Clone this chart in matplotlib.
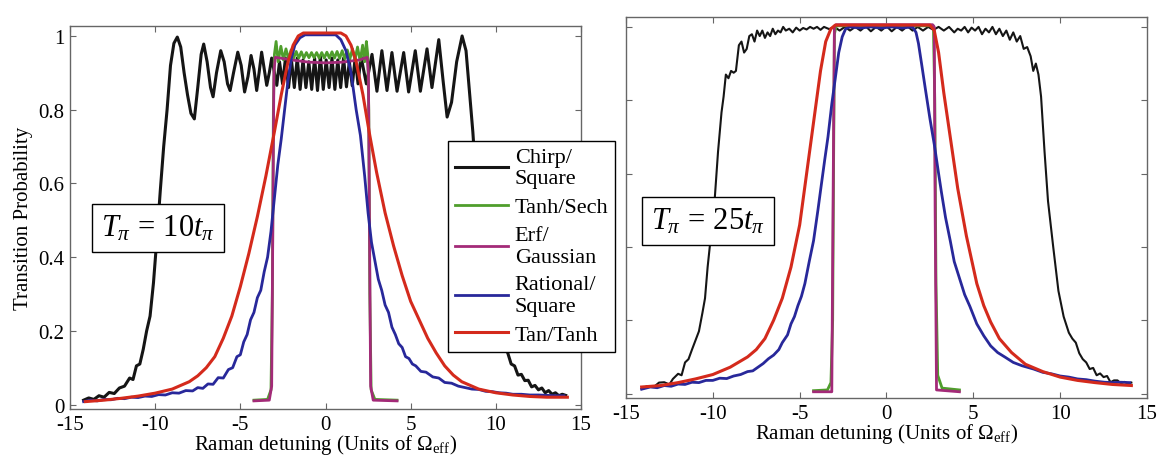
import numpy as np
import matplotlib
matplotlib.use('Agg')
import matplotlib.pyplot as plt

plt.rcParams['font.family'] = ['Liberation Serif', 'DejaVu Serif']
plt.rcParams['mathtext.fontset'] = 'custom'
plt.rcParams['mathtext.rm'] = 'Liberation Serif'
plt.rcParams['mathtext.it'] = 'Liberation Serif:italic'
plt.rcParams['axes.unicode_minus'] = False

labels = ['Chirp/\nSquare', 'Tanh/Sech', 'Erf/\nGaussian', 'Rational/\nSquare', 'Tan/Tanh']
colors = ['#151515', '#4f9e2c', '#a32a78', '#28289a', '#d42a1c']
x_ticks = [-15, -10, -5, 0, 5, 10, 15]
y_ticks = [0, 0.2, 0.4, 0.6, 0.8, 1]
box_texts = [r'$T_{\pi}\,=\,10t_{\pi}$', r'$T_{\pi}\,=\,25t_{\pi}$']

# left panel, T_pi = 10 t_pi  (detuning, probability)
chirp_10 = [(-14.2, 0.012), (-13.9, 0.018), (-13.6, 0.014), (-13.3, 0.024), (-13.0, 0.02), (-12.7, 0.033),
            (-12.4, 0.03), (-12.1, 0.045), (-11.8, 0.05), (-11.5, 0.072), (-11.3, 0.068), (-11.1, 0.105),
            (-10.9, 0.11), (-10.7, 0.15), (-10.5, 0.2), (-10.3, 0.24), (-10.1, 0.33), (-9.9, 0.45),
            (-9.7, 0.58), (-9.5, 0.7), (-9.3, 0.8), (-9.1, 0.92), (-8.9, 0.98), (-8.7, 0.997), (-8.5, 0.97),
            (-8.3, 0.9), (-8.1, 0.84), (-7.9, 0.79), (-7.7, 0.775), (-7.5, 0.86), (-7.3, 0.95), (-7.15, 0.978),
            (-6.95, 0.93), (-6.75, 0.86), (-6.6, 0.835), (-6.4, 0.9), (-6.15, 0.96), (-5.95, 0.93),
            (-5.75, 0.87), (-5.6, 0.852), (-5.4, 0.9), (-5.15, 0.956), (-4.95, 0.92), (-4.75, 0.848),
            (-4.55, 0.89), (-4.37, 0.947), (-4.2, 0.91), (-4.04, 0.852), (-3.9, 0.9), (-3.75, 0.956),
            (-3.6, 0.91), (-3.45, 0.866), (-3.3, 0.9), (-3.16, 0.94), (-3.0, 0.9), (-2.86, 0.866),
            (-2.7, 0.93), (-2.52, 0.87), (-2.35, 0.94), (-2.17, 0.86), (-2.0, 0.935), (-1.83, 0.86),
            (-1.66, 0.94), (-1.49, 0.855), (-1.32, 0.935), (-1.15, 0.86), (-0.98, 0.93), (-0.81, 0.855),
            (-0.64, 0.94), (-0.47, 0.852), (-0.3, 0.945), (-0.13, 0.855), (0.04, 0.935), (0.21, 0.86),
            (0.38, 0.94), (0.55, 0.855), (0.72, 0.935), (0.89, 0.86), (1.06, 0.94), (1.23, 0.862),
            (1.4, 0.93), (1.57, 0.865), (1.74, 0.94), (1.91, 0.87), (2.08, 0.945), (2.4, 0.87),
            (2.73, 0.95), (3.02, 0.85), (3.31, 0.96), (3.61, 0.852), (3.9, 0.955), (4.2, 0.85),
            (4.59, 0.955), (4.88, 0.848), (5.27, 0.96), (5.57, 0.85), (5.96, 0.965), (6.25, 0.86),
            (6.65, 0.99), (6.9, 0.88), (7.14, 0.78), (7.4, 0.82), (7.7, 0.93), (8.02, 1.0), (8.25, 0.96),
            (8.45, 0.85), (8.65, 0.74), (8.85, 0.6), (9.05, 0.45), (9.25, 0.34), (9.45, 0.27), (9.7, 0.22),
            (9.95, 0.19), (10.2, 0.17), (10.45, 0.16), (10.7, 0.14), (10.9, 0.11), (11.1, 0.105),
            (11.3, 0.08), (11.5, 0.082), (11.7, 0.065), (11.9, 0.066), (12.1, 0.048), (12.3, 0.052),
            (12.5, 0.04), (12.7, 0.045), (12.9, 0.032), (13.1, 0.038), (13.3, 0.028), (13.5, 0.032),
            (13.7, 0.024), (13.9, 0.028), (14.1, 0.025)]
sech_10 = [(-4.2, 0.012), (-3.4, 0.014), (-3.2, 0.04), (-3.12, 0.3), (-3.06, 0.8), (-3.0, 0.95),
           (-2.9, 0.985), (-2.78, 0.93), (-2.62, 0.972), (-2.47, 0.935), (-2.32, 0.965), (-2.17, 0.937),
           (-2.02, 0.962), (-1.87, 0.94), (-1.72, 0.958), (-1.57, 0.94), (-1.42, 0.957), (-1.27, 0.94),
           (-1.12, 0.955), (-0.97, 0.941), (-0.82, 0.955), (-0.67, 0.941), (-0.52, 0.955), (-0.37, 0.94),
           (-0.22, 0.955), (-0.07, 0.94), (0.08, 0.956), (0.23, 0.94), (0.38, 0.957), (0.53, 0.94),
           (0.68, 0.958), (0.83, 0.939), (0.98, 0.96), (1.13, 0.938), (1.28, 0.962), (1.43, 0.937),
           (1.58, 0.965), (1.73, 0.935), (1.88, 0.97), (2.03, 0.932), (2.18, 0.975), (2.3, 0.93),
           (2.4, 0.985), (2.48, 0.95), (2.54, 0.8), (2.6, 0.3), (2.68, 0.04), (2.9, 0.014), (4.2, 0.012)]
gauss_10 = [(-4.2, 0.01), (-3.3, 0.012), (-3.16, 0.05), (-3.09, 0.5), (-3.03, 0.9), (-2.95, 0.942),
            (-2.0, 0.935), (-1.0, 0.929), (0.0, 0.927), (1.0, 0.929), (2.0, 0.935), (2.45, 0.942),
            (2.52, 0.9), (2.58, 0.5), (2.65, 0.05), (2.8, 0.012), (4.2, 0.01)]
rational_10 = [(-14.2, 0.008), (-13.8, 0.012), (-13.4, 0.01), (-13.0, 0.014), (-12.6, 0.013), (-12.2, 0.017),
               (-11.8, 0.016), (-11.4, 0.02), (-11.0, 0.019), (-10.6, 0.023), (-10.2, 0.022), (-9.8, 0.027),
               (-9.4, 0.026), (-9.0, 0.032), (-8.6, 0.031), (-8.2, 0.038), (-7.8, 0.037), (-7.5, 0.046),
               (-7.2, 0.044), (-6.9, 0.056), (-6.6, 0.055), (-6.3, 0.073), (-6.0, 0.072), (-5.7, 0.095),
               (-5.45, 0.1), (-5.2, 0.13), (-5.0, 0.135), (-4.8, 0.17), (-4.6, 0.19), (-4.4, 0.23),
               (-4.2, 0.25), (-4.0, 0.29), (-3.8, 0.31), (-3.6, 0.36), (-3.4, 0.4), (-3.2, 0.47),
               (-3.0, 0.56), (-2.8, 0.65), (-2.6, 0.72), (-2.4, 0.8), (-2.2, 0.88), (-2.0, 0.94),
               (-1.8, 0.975), (-1.5, 0.995), (-1.2, 1.003), (0.6, 1.003), (0.9, 0.99), (1.2, 0.96),
               (1.5, 0.9), (1.8, 0.8), (2.05, 0.73), (2.3, 0.62), (2.5, 0.52), (2.7, 0.44), (2.9, 0.39),
               (3.1, 0.34), (3.3, 0.31), (3.5, 0.27), (3.7, 0.25), (3.9, 0.21), (4.1, 0.19), (4.3, 0.165),
               (4.5, 0.155), (4.7, 0.13), (4.9, 0.125), (5.1, 0.11), (5.3, 0.105), (5.6, 0.09),
               (5.9, 0.088), (6.3, 0.075), (6.65, 0.072), (7.0, 0.06), (7.4, 0.058), (7.8, 0.05),
               (8.2, 0.046), (8.6, 0.042), (9.0, 0.041), (9.4, 0.036), (9.8, 0.035), (10.2, 0.032),
               (10.6, 0.031), (11.0, 0.028), (11.5, 0.028), (12.0, 0.026), (12.5, 0.026), (13.0, 0.025),
               (13.5, 0.024), (14.0, 0.024)]
tanh_10 = [(-14.1, 0.008), (-13.0, 0.012), (-12.0, 0.017), (-11.0, 0.023), (-10.0, 0.031), (-9.0, 0.042),
           (-8.0, 0.062), (-7.5, 0.078), (-7.0, 0.1), (-6.5, 0.13), (-6.0, 0.18), (-5.5, 0.24),
           (-5.0, 0.32), (-4.5, 0.41), (-4.0, 0.51), (-3.5, 0.62), (-3.0, 0.74), (-2.6, 0.84),
           (-2.2, 0.93), (-1.9, 0.975), (-1.6, 1.0), (-1.3, 1.008), (0.9, 1.008), (1.2, 1.0),
           (1.5, 0.975), (1.8, 0.93), (2.2, 0.84), (2.6, 0.73), (3.0, 0.63), (3.5, 0.52), (4.0, 0.43),
           (4.5, 0.35), (5.0, 0.28), (5.5, 0.23), (6.0, 0.18), (6.5, 0.14), (7.0, 0.105), (7.5, 0.08),
           (8.0, 0.062), (9.0, 0.042), (10.0, 0.032), (11.0, 0.026), (12.0, 0.022), (13.0, 0.02),
           (14.2, 0.02)]

# right panel, T_pi = 25 t_pi
chirp_25 = [(-14.1, 0.013), (-13.8, 0.02), (-13.4, 0.018), (-13.1, 0.03), (-12.8, 0.031), (-12.5, 0.025),
            (-12.3, 0.04), (-12.0, 0.054), (-11.8, 0.05), (-11.6, 0.085), (-11.4, 0.094), (-11.2, 0.12),
            (-11.0, 0.145), (-10.8, 0.17), (-10.6, 0.22), (-10.45, 0.26), (-10.3, 0.345), (-10.1, 0.435),
            (-9.9, 0.525), (-9.7, 0.66), (-9.5, 0.767), (-9.38, 0.81), (-9.25, 0.87), (-9.1, 0.86),
            (-8.95, 0.88), (-8.8, 0.875), (-8.67, 0.88), (-8.5, 0.95), (-8.35, 0.96), (-8.2, 0.93),
            (-8.05, 0.94), (-7.9, 0.975), (-7.75, 0.98), (-7.6, 0.96), (-7.45, 0.99), (-7.3, 0.975),
            (-7.15, 0.99), (-7.0, 0.97), (-6.85, 0.985), (-6.7, 0.975), (-6.55, 0.995), (-6.4, 0.98),
            (-6.25, 0.99), (-6.1, 0.985), (-5.95, 1.0), (-5.8, 0.99), (-5.6, 0.995), (-5.4, 0.985),
            (-5.2, 0.998), (-5.0, 0.99), (-4.8, 0.997), (-4.6, 0.993), (-4.4, 1.0), (-4.2, 0.995),
            (-4.0, 1.0), (-3.8, 0.992), (-3.6, 1.0), (-3.3, 0.994), (-3.0, 1.0), (-2.7, 0.99), (-2.4, 1.0),
            (-2.1, 0.99), (-1.8, 1.0), (-1.5, 0.99), (-1.2, 1.002), (-0.9, 0.988), (-0.6, 1.0),
            (-0.3, 0.99), (0.0, 1.002), (0.3, 0.988), (0.6, 1.0), (0.9, 0.99), (1.2, 1.002), (1.5, 0.99),
            (1.8, 1.0), (2.1, 0.99), (2.4, 1.0), (2.7, 0.992), (3.0, 1.0), (3.3, 0.99), (3.6, 1.0),
            (3.9, 0.985), (4.1, 0.995), (4.3, 0.99), (4.5, 1.0), (4.7, 0.985), (4.9, 0.998), (5.1, 0.99),
            (5.3, 1.0), (5.5, 0.98), (5.7, 0.995), (5.9, 0.985), (6.1, 1.0), (6.3, 0.98), (6.5, 0.995),
            (6.7, 0.975), (6.9, 0.99), (7.1, 0.965), (7.3, 0.985), (7.5, 0.96), (7.7, 0.975), (7.9, 0.94),
            (8.1, 0.945), (8.3, 0.92), (8.45, 0.88), (8.6, 0.9), (8.75, 0.87), (8.9, 0.81), (9.1, 0.66),
            (9.3, 0.525), (9.6, 0.4), (9.9, 0.28), (10.2, 0.21), (10.5, 0.166), (10.7, 0.15),
            (10.9, 0.139), (11.1, 0.11), (11.3, 0.094), (11.5, 0.085), (11.7, 0.067), (11.9, 0.07),
            (12.1, 0.05), (12.3, 0.055), (12.5, 0.045), (12.7, 0.048), (12.9, 0.031), (13.1, 0.036),
            (13.3, 0.036), (13.5, 0.028), (13.7, 0.032), (13.9, 0.027), (14.1, 0.03)]
sech_25 = [(-4.2, 0.008), (-3.4, 0.01), (-3.2, 0.03), (-3.1, 0.2), (-3.05, 0.6), (-3.0, 0.98),
           (-2.9, 1.003), (2.7, 1.003), (2.78, 0.8), (2.85, 0.3), (2.95, 0.05), (3.2, 0.015), (4.2, 0.01)]
gauss_25 = [(-4.2, 0.005), (-3.15, 0.005), (-3.08, 0.5), (-3.0, 1.0), (-2.9, 1.006), (2.65, 1.006),
            (2.75, 1.0), (2.8, 0.5), (2.88, 0.01), (4.2, 0.005)]
rational_25 = [(-14.1, 0.012), (-13.6, 0.018), (-13.2, 0.016), (-12.8, 0.022), (-12.4, 0.02), (-12.0, 0.026),
               (-11.6, 0.025), (-11.2, 0.031), (-10.8, 0.03), (-10.4, 0.036), (-10.0, 0.036), (-9.6, 0.042),
               (-9.2, 0.041), (-8.8, 0.048), (-8.4, 0.052), (-8.0, 0.06), (-7.7, 0.062), (-7.4, 0.072),
               (-7.1, 0.082), (-6.8, 0.095), (-6.5, 0.105), (-6.2, 0.12), (-6.0, 0.139), (-5.7, 0.16),
               (-5.5, 0.19), (-5.3, 0.21), (-5.1, 0.24), (-4.9, 0.265), (-4.7, 0.3), (-4.45, 0.36),
               (-4.2, 0.417), (-3.95, 0.5), (-3.78, 0.56), (-3.55, 0.64), (-3.37, 0.7), (-3.15, 0.79),
               (-2.96, 0.856), (-2.75, 0.93), (-2.55, 0.973), (-2.35, 0.995), (-2.1, 1.0), (-1.5, 0.997),
               (-0.9, 1.0), (-0.3, 0.997), (0.3, 1.0), (0.9, 0.997), (1.5, 1.0), (1.7, 0.985), (1.84, 0.955),
               (2.05, 0.89), (2.24, 0.83), (2.5, 0.75), (2.76, 0.677), (3.0, 0.6), (3.16, 0.55), (3.4, 0.48),
               (3.67, 0.417), (3.9, 0.36), (4.18, 0.318), (4.5, 0.27), (4.8, 0.238), (5.2, 0.19),
               (5.61, 0.157), (6.0, 0.13), (6.4, 0.112), (6.84, 0.099), (7.3, 0.085), (7.8, 0.076),
               (8.47, 0.067), (9.0, 0.058), (9.5, 0.054), (10.0, 0.048), (10.5, 0.045), (11.0, 0.04),
               (11.5, 0.038), (12.0, 0.034), (12.55, 0.031), (13.0, 0.03), (13.5, 0.031), (14.0, 0.03)]
tanh_25 = [(-14.1, 0.018), (-13.0, 0.022), (-12.0, 0.03), (-11.0, 0.04), (-10.0, 0.052), (-9.0, 0.072),
           (-8.0, 0.1), (-7.5, 0.12), (-7.0, 0.15), (-6.5, 0.2), (-6.0, 0.26), (-5.5, 0.345), (-5.0, 0.46),
           (-4.6, 0.6), (-4.2, 0.74), (-3.8, 0.88), (-3.5, 0.96), (-3.2, 0.995), (-2.95, 1.005),
           (2.5, 1.005), (2.75, 0.99), (3.0, 0.93), (3.3, 0.82), (3.7, 0.69), (4.1, 0.56), (4.6, 0.43),
           (5.2, 0.3), (5.6, 0.24), (6.0, 0.195), (6.5, 0.15), (7.2, 0.112), (8.0, 0.08), (9.0, 0.06),
           (10.0, 0.045), (11.0, 0.036), (12.0, 0.03), (13.0, 0.025), (14.1, 0.022)]

panels = [
    [chirp_10, sech_10, gauss_10, rational_10, tanh_10],
    [chirp_25, sech_25, gauss_25, rational_25, tanh_25],
]
widths = [[2.2, 2.0, 2.0, 2.0, 2.2], [1.5, 2.0, 2.0, 2.0, 2.2]]

W, H = 1159, 460
fig = plt.figure(figsize=(W / 100, H / 100), dpi=100)
ax_l = fig.add_axes([70 / W, 1 - 410 / H, 511 / W, 383 / H])
ax_r = fig.add_axes([626 / W, 1 - 399 / H, 521 / W, 381 / H])

handles = []
for k, ax in enumerate([ax_l, ax_r]):
    for series, c, lw in zip(panels[k], colors, widths[k]):
        xy = np.array(series)
        ln, = ax.plot(xy[:, 0], xy[:, 1], color=c, lw=lw)
        if k == 0:
            handles.append(ln)
    ax.set_xlim(-15, 15)
    ax.set_ylim(-0.012, 1.027)
    ax.set_xticks(x_ticks)
    ax.set_yticks(y_ticks)
    ax.tick_params(direction='in', top=True, right=True, length=4, width=0.8,
                   color='#666666', labelsize=15, pad=4)
    for s in ax.spines.values():
        s.set_color('#666666')
        s.set_linewidth(1.0)
    ax.set_xlabel(r'Raman detuning (Units of $\Omega_{\mathrm{eff}}$)', fontsize=15, labelpad=-1)

ax_l.set_yticklabels(['0', '0.2', '0.4', '0.6', '0.8', '1'])
ax_r.set_yticklabels([])
ax_l.set_ylabel('Transition Probability', fontsize=15, labelpad=4)

fig.text(158 / W, 1 - 229 / H, box_texts[0], fontsize=22, ha='center', va='center',
         bbox=dict(boxstyle='square,pad=0.3', fc='white', ec='black', lw=1.0))
fig.text(708 / W, 1 - 222 / H, box_texts[1], fontsize=22, ha='center', va='center',
         bbox=dict(boxstyle='square,pad=0.3', fc='white', ec='black', lw=1.0))

leg = fig.legend(handles, labels, loc='upper left', bbox_to_anchor=(448 / W, 1 - 142 / H),
                 borderaxespad=0, fontsize=16, frameon=True, fancybox=False, framealpha=1,
                 edgecolor='black', handlelength=2.4, handletextpad=0.3, labelspacing=0.38,
                 borderpad=0.3)
leg.get_frame().set_linewidth(1.0)

fig.savefig('out.png', dpi=100)
